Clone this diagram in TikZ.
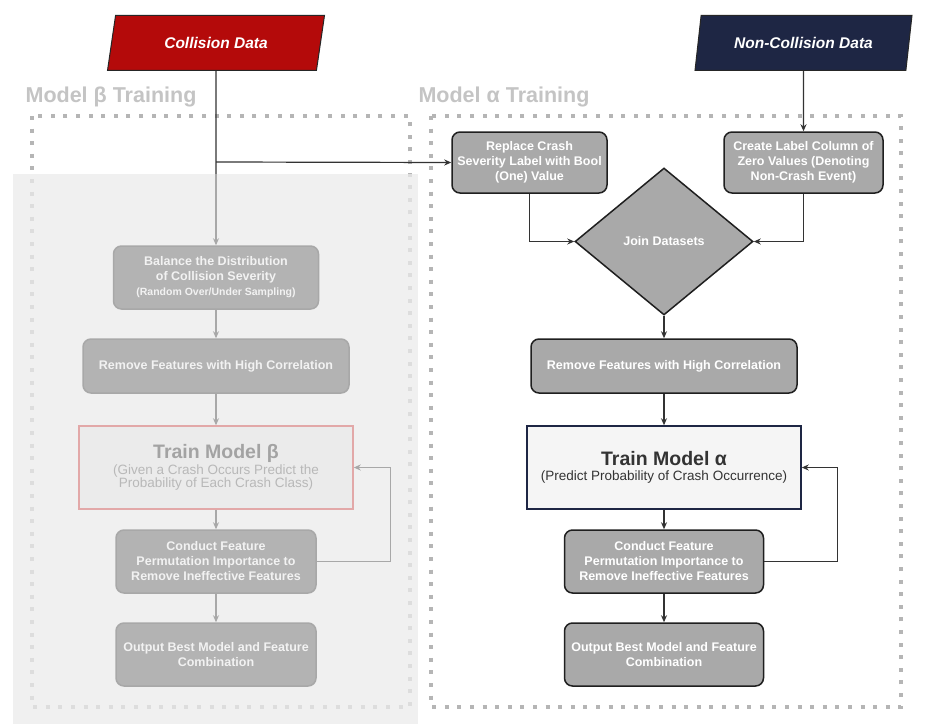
\documentclass[tikz,border=0pt]{standalone}
\usepackage{fontspec}
\setmainfont{Liberation Sans}
\usetikzlibrary{arrows.meta,shapes.geometric}
\definecolor{collred}{HTML}{B40A0A}
\definecolor{navy}{HTML}{1E2644}
\definecolor{boxgray}{HTML}{A9A9A9}
\definecolor{dotgray}{HTML}{B5B5B5}
\definecolor{fadebg}{HTML}{EBEBEB}
\definecolor{fadefill}{HTML}{B3B3B3}
\definecolor{fadeline}{HTML}{A8A8A8}
\definecolor{fadetext}{HTML}{F2F2F2}
\definecolor{fadered}{HTML}{E2A8A8}
\definecolor{headgray}{HTML}{C4C4C4}
\definecolor{trainfill}{HTML}{F5F5F5}

\begin{document}
\begin{tikzpicture}[x=1pt,y=-1pt,
    proc/.style={rectangle,rounded corners=8pt,draw=black!88,line width=1.5pt,fill=boxgray,
      text=white,align=center,inner sep=0pt,font=\bfseries\fontsize{12.5}{15}\selectfont},
    fadeproc/.style={proc,draw=fadeline,fill=fadefill,text=fadetext},
    data/.style={trapezium,trapezium left angle=70,trapezium right angle=110,trapezium stretches=true,
      draw=black!85,line width=1pt,text=white,inner sep=0pt,minimum width=217,minimum height=55,
      font=\bfseries\itshape\fontsize{15.5}{18}\selectfont},
    trainbox/.style={rectangle,line width=1.5pt,align=center,inner sep=0pt,minimum width=274,minimum height=83},
    arr/.style={-{Stealth[length=7pt,width=6pt]},line width=1.2pt,draw=black!80},
    fadearr/.style={arr,draw=fadeline},
    head/.style={text=headgray,font=\bfseries\fontsize{21.5}{25}\selectfont},
    region/.style={draw=dotgray,line width=4pt,dash pattern=on 4pt off 8.6pt}]

    \useasboundingbox[fill=white] (0,0) rectangle (929,725);

    % training regions
    \draw[region] (32,116) rectangle (410,707);
    \draw[region] (431,116) rectangle (901,707);
    \node[head] (headB) at (111,97) {Model β Training};
    \node[head] (headA) at (504,97) {Model α Training};

    % data sources
    \node[data,fill=collred] (coll) at (216,43) {Collision Data};
    \node[data,fill=navy] (ncoll) at (803.5,43) {Non-Collision Data};

    % model alpha
    \node[proc,minimum width=155,minimum height=61] (repl) at (529.5,162.5)
      {Replace Crash\\Severity Label with Bool\\(One) Value};
    \node[proc,minimum width=159,minimum height=61] (creat) at (803.5,162.5)
      {Create Label Column of\\Zero Values (Denoting\\Non-Crash Event)};
    \node[diamond,draw=black!88,line width=1.5pt,fill=boxgray,text=white,inner sep=0pt,aspect=1.2,
      minimum width=178,minimum height=147,font=\bfseries\fontsize{12.5}{15}\selectfont] (join) at (664,241.5) {Join Datasets};
    \node[proc,minimum width=266,minimum height=54] (remA) at (664,366) {Remove Features with High Correlation};
    \node[trainbox,draw=navy,fill=trainfill,text=black!80] (trainA) at (664,467.5)
      {{\bfseries\fontsize{19.5}{23}\selectfont Train Model α}\\[3pt]\fontsize{13.5}{16}\selectfont (Predict Probability of Crash Occurrence)};
    \node[proc,minimum width=199,minimum height=63] (condA) at (664,561.5)
      {Conduct Feature\\Permutation Importance to\\Remove Ineffective Features};
    \node[proc,minimum width=199,minimum height=63] (outA) at (664,654.5)
      {Output Best Model and Feature\\Combination};

    \coordinate (split) at (216,162);
    \coordinate (fadetop) at (216,174);
    \draw[line width=1.2pt,draw=black!80] (coll.south) -- (fadetop);
    \draw[arr] (split) -- (repl.west);
    \draw[arr] (ncoll.south) -- (creat.north);
    \draw[arr] (repl.south) |- (join.west);
    \draw[arr] (creat.south) |- (join.east);
    \draw[arr] (join.south) -- (remA.north);
    \draw[arr] (remA) -- (trainA);
    \draw[arr] (trainA) -- (condA);
    \draw[arr] (condA) -- (outA);
    \draw[arr] (condA.east) -- ++(73,0) |- (trainA.east);

    % model beta, greyed out
    \fill[fadebg,fill opacity=0.75] (13,174) rectangle (418,724);
    \node[fadeproc,minimum width=205,minimum height=63] (bal) at (216,277.5)
      {Balance the Distribution\\of Collision Severity\\{\fontsize{10.5}{13}\selectfont(Random Over/Under Sampling)}};
    \node[fadeproc,minimum width=266,minimum height=54] (remB) at (216,366) {Remove Features with High Correlation};
    \node[trainbox,draw=fadered,fill=fadebg,text=black!36] (trainB) at (216,467.5)
      {{\bfseries\fontsize{19.5}{23}\selectfont Train Model β}\\[1pt]
       \fontsize{13.5}{15}\selectfont\color{black!28}(Given a Crash Occurs Predict the\\
       \fontsize{13.5}{15}\selectfont\color{black!28}Probability of Each Crash Class)};
    \node[fadeproc,minimum width=200,minimum height=63] (condB) at (216,561.5)
      {Conduct Feature\\Permutation Importance to\\Remove Ineffective Features};
    \node[fadeproc,minimum width=200,minimum height=63] (outB) at (216,654.5)
      {Output Best Model and Feature\\Combination};

    \draw[fadearr] (fadetop) -- (bal.north);
    \draw[fadearr] (bal) -- (remB);
    \draw[fadearr] (remB) -- (trainB);
    \draw[fadearr] (trainB) -- (condB);
    \draw[fadearr] (condB) -- (outB);
    \draw[fadearr] (condB.east) -- ++(74,0) |- (trainB.east);
\end{tikzpicture}
\end{document}
